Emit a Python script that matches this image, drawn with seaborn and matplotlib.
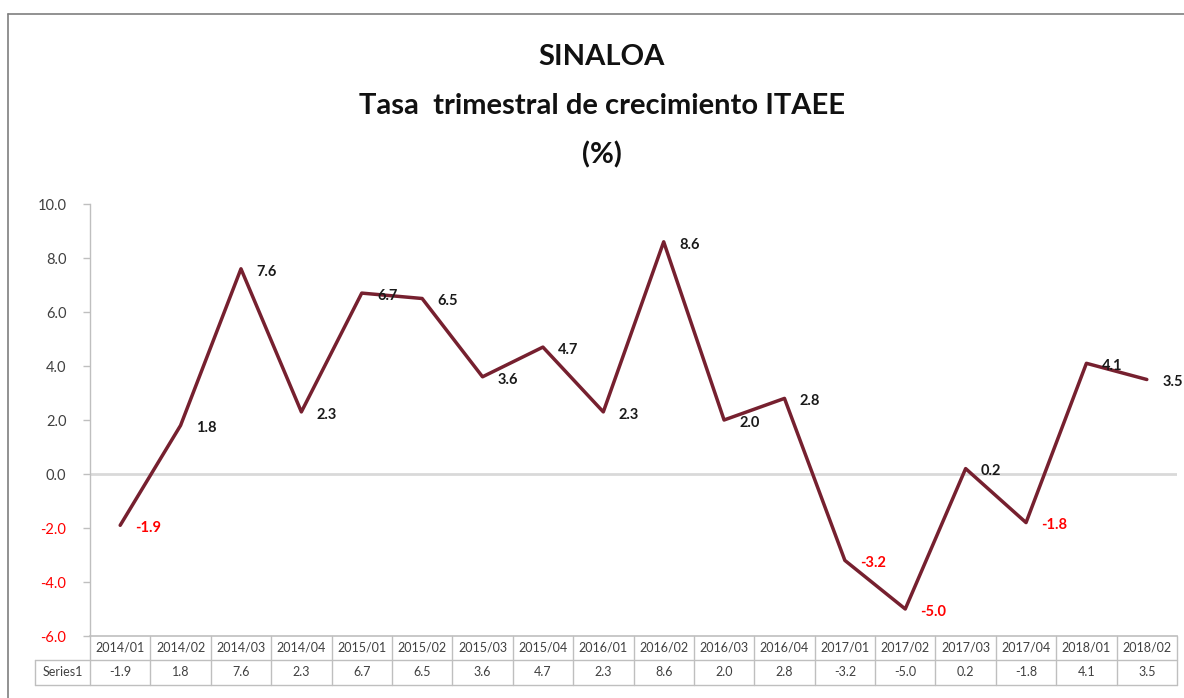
import matplotlib
matplotlib.use("Agg")
import matplotlib.pyplot as plt
import matplotlib.transforms as mtransforms
from matplotlib.lines import Line2D
import seaborn as sns
import pandas as pd

categories = ["2014/01", "2014/02", "2014/03", "2014/04", "2015/01", "2015/02",
              "2015/03", "2015/04", "2016/01", "2016/02", "2016/03", "2016/04",
              "2017/01", "2017/02", "2017/03", "2017/04", "2018/01", "2018/02"]
values = [-1.9, 1.8, 7.6, 2.3, 6.7, 6.5, 3.6, 4.7, 2.3, 8.6, 2.0, 2.8,
          -3.2, -5.0, 0.2, -1.8, 4.1, 3.5]
series_name = "Series1"
y_ticks = [-6.0, -4.0, -2.0, 0.0, 2.0, 4.0, 6.0, 8.0, 10.0]
title_lines = ["SINALOA", "Tasa  trimestral de crecimiento ITAEE", "(%)"]

sns.set_theme(style="white")
plt.rcParams['font.family'] = ['Lato', 'DejaVu Sans']

W, H = 1184, 698
fig = plt.figure(figsize=(W / 100, H / 100), dpi=100)
ax_left, ax_right, ax_top, ax_bot = 90, 1177, 204, 636
ax = fig.add_axes([ax_left / W, (H - ax_bot) / H, (ax_right - ax_left) / W, (ax_bot - ax_top) / H])

df = pd.DataFrame({"x": range(len(categories)), "v": values})
LINE = "#76202F"
sns.lineplot(data=df, x="x", y="v", ax=ax, color=LINE, linewidth=2.5, zorder=3)

ax.set_xlim(-0.5, len(categories) - 0.5)
ax.set_ylim(y_ticks[0], y_ticks[-1])
ax.set_yticks(y_ticks)
ax.set_yticklabels([f"{t:.1f}" for t in y_ticks])
for lab, t in zip(ax.get_yticklabels(), y_ticks):
    lab.set_color("#FF0000" if t < 0 else "#404040")
    lab.set_fontsize(10.5)
ax.tick_params(axis="y", which="both", left=True, length=5, width=1, color="#BFBFBF", pad=12)
ax.set_xticks([])
ax.set_xlabel("")
ax.set_ylabel("")
for s in ["top", "right"]:
    ax.spines[s].set_visible(False)
ax.spines["left"].set_color("#BFBFBF")
ax.spines["bottom"].set_color("#BFBFBF")
ax.spines["left"].set_linewidth(1)
ax.spines["bottom"].set_linewidth(1.2)
ax.axhline(0, color="#D9D9D9", linewidth=2, zorder=1)

# data labels
for i, v in enumerate(values):
    ax.annotate(f"{v:.1f}", (i, v), xytext=(11, -2), textcoords="offset points",
                ha="left", va="center", fontsize=10.5, fontweight="bold",
                color="#FF0000" if v < 0 else "#1A1A1A", zorder=4)

# data table below the axis
trans = mtransforms.blended_transform_factory(ax.transData, ax.transAxes)
ph = ax_bot - ax_top
row1_bot = -24 / ph
row2_bot = -49 / ph
px_per_unit = (ax_right - ax_left) / len(categories)
label_left = -0.5 - 55 / px_per_unit
gc = "#BFBFBF"
n = len(categories)
for k in range(n + 1):
    ax.add_line(Line2D([k - 0.5, k - 0.5], [0, row2_bot], transform=trans, color=gc,
                       linewidth=1, clip_on=False))
ax.add_line(Line2D([label_left, label_left], [row1_bot, row2_bot], transform=trans, color=gc,
                   linewidth=1, clip_on=False))
for yy in [row1_bot, row2_bot]:
    ax.add_line(Line2D([label_left, n - 0.5], [yy, yy], transform=trans, color=gc,
                       linewidth=1, clip_on=False))
for i, (c, v) in enumerate(zip(categories, values)):
    ax.text(i, row1_bot / 2, c, transform=trans, ha="center", va="center",
            fontsize=9, color="#404040", clip_on=False)
    ax.text(i, (row1_bot + row2_bot) / 2, f"{v:.1f}", transform=trans, ha="center",
            va="center", fontsize=9, color="#404040", clip_on=False)
ax.text((label_left - 0.5) / 2, (row1_bot + row2_bot) / 2, series_name, transform=trans,
        ha="center", va="center", fontsize=9, color="#404040", clip_on=False)

# titles
for j, t in enumerate(title_lines):
    fig.text(0.5 + 10 / W, 1 - (57 + 49 * j) / H, t, ha="center", va="center",
             fontsize=21, fontweight="bold", color="#111111")

# outer chart border (left and top)
fig.add_artist(Line2D([8 / W, 8 / W], [0, 1 - 14 / H], transform=fig.transFigure,
                      color="#7F7F7F", linewidth=1.2))
fig.add_artist(Line2D([8 / W, 1], [1 - 14 / H, 1 - 14 / H], transform=fig.transFigure,
                      color="#7F7F7F", linewidth=1.2))

fig.savefig("out.png", dpi=100)
